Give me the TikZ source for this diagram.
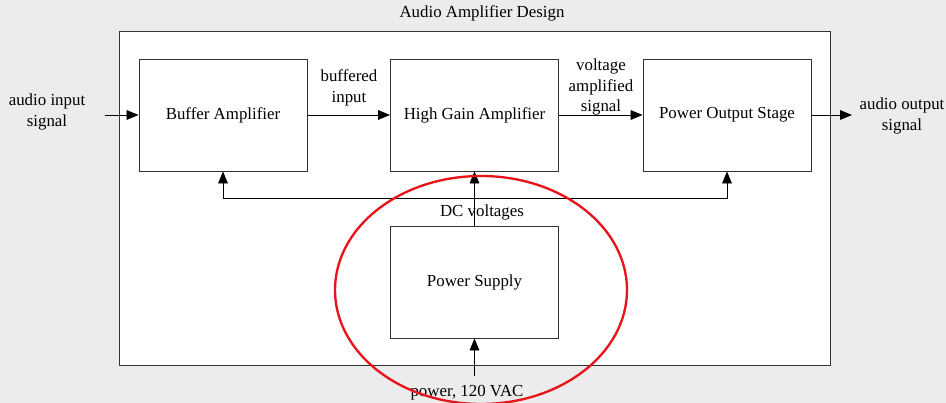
\documentclass[tikz,border=0pt]{standalone}
\usepackage{fontspec}
\setmainfont{Liberation Serif}
\usepackage{xcolor}
\usetikzlibrary{arrows.meta}
\definecolor{aaBg}{HTML}{ECECEC}
\definecolor{aaLine}{HTML}{333333}
\definecolor{aaRing}{HTML}{E8141B}
\begin{document}
\begin{tikzpicture}[
  x=0.03cm, y=-0.03cm,
  font=\fontsize{14.4}{17.5}\selectfont,
  blk/.style={draw=aaLine, line width=0.75pt, fill=white, minimum width=5.04cm, minimum height=3.36cm, inner sep=0pt},
  sig/.style={-{Triangle[length=3.6mm, width=2.9mm]}, line width=0.75pt},
  lbl/.style={align=center, inner sep=1pt},
]
% page and frame
\fill[aaBg] (0,0) rectangle (946,403);
\useasboundingbox (0,0) rectangle (946,403);
\node[draw=aaLine, line width=0.75pt, fill=white, minimum width=21.33cm, minimum height=10.02cm, inner sep=0pt] (frame) at (474.5,198) {};
\node[lbl] (title) at (482,13) {Audio Amplifier Design};
% blocks
\node[blk] (buf) at (223,115) {Buffer Amplifier};
\node[blk] (hga) at (474.5,115) {High Gain Amplifier};
\node[blk] (pos) at (727,115) {Power Output Stage};
\node[blk] (psu) at (474.5,282) {Power Supply};
% signal chain
\coordinate (in) at (105,115);
\coordinate (out) at (852,115);
\draw[sig] (in) -- (buf.west);
\draw[sig] (buf.east) -- (hga.west);
\draw[sig] (hga.east) -- (pos.west);
\draw[sig] (pos.east) -- (out);
\node[lbl] (inlbl) at (47,112) {audio input\\signal};
\node[lbl] (outlbl) at (902,116) {audio output\\signal};
\node[lbl] (buflbl) at (349,88) {buffered\\input};
\node[lbl] (hgalbl) at (601,87) {voltage\\amplified\\signal};
% dc supply bus
\coordinate (bus) at (474.5,198);
\draw[sig] (psu.north) -- (hga.south);
\draw[sig] (bus) -| (buf.south);
\draw[sig] (bus) -| (pos.south);
\node[lbl] (dclbl) at (482,212) {DC voltages};
% mains
\coordinate (ac) at (474.5,376);
\draw[sig] (ac) -- (psu.south);
\node[lbl, fill=aaBg] (aclbl) at (467,393) {power, 120 VAC};
% highlight
\draw[aaRing, line width=2pt] (481,290) ellipse [x radius=4.38cm, y radius=3.42cm];
\end{tikzpicture}
\end{document}
